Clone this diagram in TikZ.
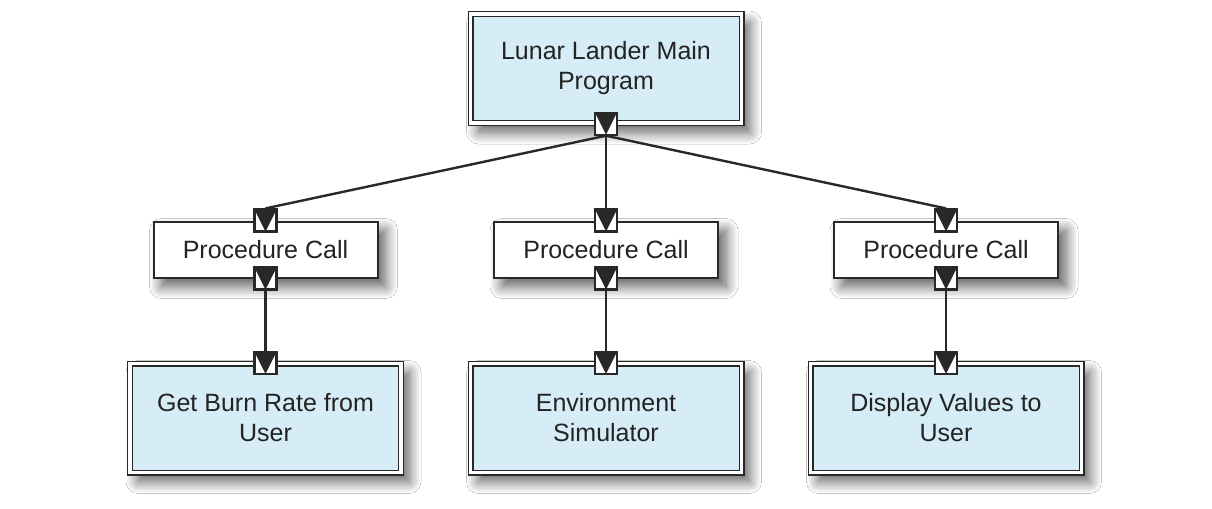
\documentclass[tikz,border=0pt]{standalone}
\usepackage{fontspec}
\setmainfont{Liberation Sans}
\usetikzlibrary{shadows.blur}
\definecolor{boxblue}{RGB}{214,236,246}
\definecolor{edgegray}{RGB}{40,40,40}
\definecolor{txtgray}{RGB}{35,35,35}
\begin{document}
\begin{tikzpicture}[x=0.5pt,y=-0.5pt,
  font=\fontsize{12.5pt}{15pt}\selectfont,
  softshadow/.style={blur shadow={shadow xshift=4pt, shadow yshift=-4.5pt, shadow blur radius=6pt, shadow blur steps=12, shadow opacity=65}},
  mainbox/.style={draw=edgegray, line width=0.6pt, double=white, double distance=1.8pt,
    fill=boxblue, minimum width=135.5pt, minimum height=54.5pt, inner sep=0pt,
    align=center, text=txtgray, softshadow},
  callbox/.style={draw=edgegray, line width=1pt, fill=white,
    minimum width=112pt, minimum height=28pt, inner sep=0pt, text=txtgray, softshadow},
  port/.style={draw=edgegray, fill=white, line width=1.1pt, minimum size=11pt, inner sep=0pt,
    path picture={\fill[edgegray] (path picture bounding box.north west) -- (path picture bounding box.north east) -- (path picture bounding box.south) -- cycle;}},
  link/.style={draw=edgegray, line width=1.2pt}
]
\useasboundingbox[fill=white] (0,0) rectangle (1212,509);

\node[mainbox] (main) at (606,68.5) {Lunar Lander Main\\Program};

\node[callbox] (c1) at (265.5,249.5) {Procedure Call};
\node[callbox] (c2) at (606,249.5) {Procedure Call};
\node[callbox] (c3) at (946,249.5) {Procedure Call};

\node[mainbox] (l1) at (265.5,418) {Get Burn Rate from\\User};
\node[mainbox] (l2) at (606,418) {Environment\\Simulator};
\node[mainbox] (l3) at (946,418) {Display Values to\\User};

\node[port] (pm) at (main.south) {};
\node[port] (c1t) at (c1.north) {};
\node[port] (c2t) at (c2.north) {};
\node[port] (c3t) at (c3.north) {};
\node[port] (c1b) at (c1.south) {};
\node[port] (c2b) at (c2.south) {};
\node[port] (c3b) at (c3.south) {};
\node[port] (l1t) at (l1.north) {};
\node[port] (l2t) at (l2.north) {};
\node[port] (l3t) at (l3.north) {};

\draw[link] (pm.south) -- (c1t.north);
\draw[link] (pm.south) -- (c2t.north);
\draw[link] (pm.south) -- (c3t.north);
\draw[link] (c1b.south) -- (l1t.north);
\draw[link] (c2b.south) -- (l2t.north);
\draw[link] (c3b.south) -- (l3t.north);
\end{tikzpicture}
\end{document}
